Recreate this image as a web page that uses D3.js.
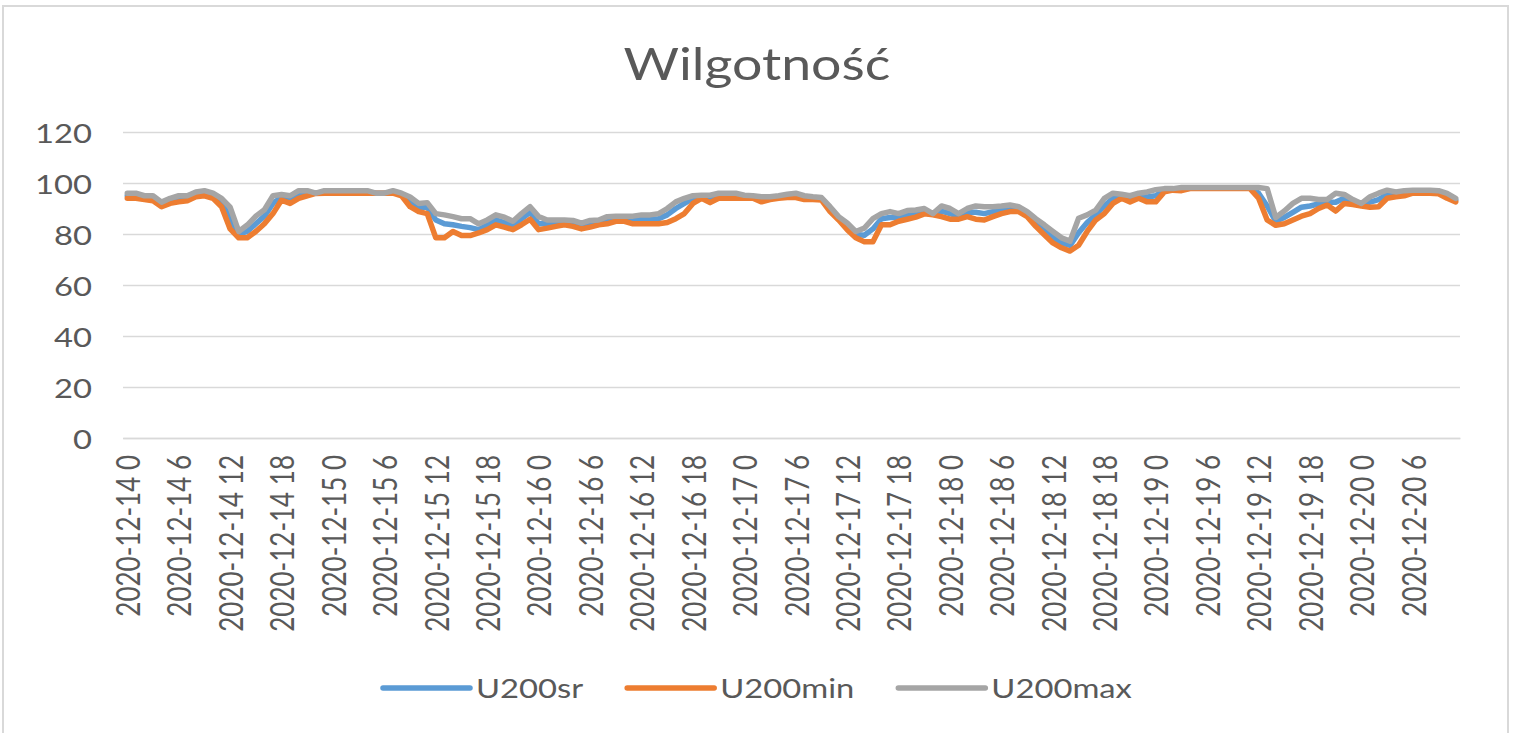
<!DOCTYPE html>
<html>
<head>
<meta charset="utf-8">
<script src="https://cdn.jsdelivr.net/npm/d3@7"></script>
<style>
  body { margin: 0; background: #fff; }
  svg text { font-family: Lato, "Open Sans", sans-serif; fill: #595959; }
</style>
</head>
<body>
<svg width="1513" height="733"></svg>
<script>
// data, hourly from 2020-12-14 0 to 2020-12-20 11
var days = ["2020-12-14", "2020-12-15", "2020-12-16", "2020-12-17", "2020-12-18", "2020-12-19", "2020-12-20"];
var hours = [0, 1, 2, 3, 4, 5, 6, 7, 8, 9, 10, 11, 12, 13, 14, 15, 16, 17, 18, 19, 20, 21, 22, 23];

var tickLabels = [
    "2020-12-14 0", "2020-12-14 6", "2020-12-14 12", "2020-12-14 18",
    "2020-12-15 0", "2020-12-15 6", "2020-12-15 12", "2020-12-15 18",
    "2020-12-16 0", "2020-12-16 6", "2020-12-16 12", "2020-12-16 18",
    "2020-12-17 0", "2020-12-17 6", "2020-12-17 12", "2020-12-17 18",
    "2020-12-18 0", "2020-12-18 6", "2020-12-18 12", "2020-12-18 18",
    "2020-12-19 0", "2020-12-19 6", "2020-12-19 12", "2020-12-19 18",
    "2020-12-20 0", "2020-12-20 6"
];
var yTicks = [0, 20, 40, 60, 80, 100, 120];

var seriesNames = ["U200sr", "U200min", "U200max"];

var u200sr = [
    95, 95, 94.5, 94, 91.5, 93, 94, 94, 95.5, 96,
    95, 92.5, 86, 80, 81, 84, 87, 92, 94.5, 93.5,
    95.5, 96, 96, 96.5, 96.5, 96.5, 96.5, 96.5, 96.5, 96,
    96, 96.5, 95.5, 92.5, 90.5, 90.5, 85.5, 84, 83.6, 83,
    82.5, 81.7, 83.5, 85.5, 84.5, 83.5, 86, 88.5, 84, 84,
    84.3, 84.5, 84, 83, 84, 84.5, 85.5, 86, 86, 85.5,
    85.8, 85.8, 86, 87.5, 90, 92, 94, 94.8, 94, 95.2,
    95.2, 95.2, 94.8, 94.5, 93.8, 94, 94.5, 95, 95.2, 94.3,
    94, 93.8, 90, 86, 83, 79.8, 79.5, 82, 86, 86.5,
    86.5, 87.5, 88, 89, 87.8, 89, 88, 87, 88.5, 88.5,
    88, 88.8, 89.5, 90, 90, 88, 84.5, 81.5, 78.7, 76.5,
    75.5, 80.5, 84.5, 87.5, 91, 94, 95, 94, 95, 94.5,
    95, 97.2, 97.5, 97.6, 98, 98, 98, 98, 98, 98,
    98, 98, 96, 91, 85, 86.5, 88.5, 90.5, 91, 91.8,
    92.5, 92.5, 94, 92.5, 91.5, 92.5, 93.5, 95.5, 95.5, 96,
    96.6, 96.6, 96.6, 96.4, 95, 93.3
];

var u200min = [
    94, 94, 93.5, 93, 90.7, 92, 92.6, 93, 94.6, 95,
    94, 90.7, 82, 78.5, 78.5, 81, 84, 88, 93.3, 92,
    94, 95, 95.9, 96, 96, 96, 96, 96, 96, 96,
    96, 96, 95, 90.7, 88.8, 88, 78.5, 78.5, 81, 79.4,
    79.4, 80.4, 81.7, 83.6, 82.7, 81.7, 83.6, 85.8, 81.7, 82.3,
    83, 83.6, 83, 82, 82.7, 83.6, 84, 85, 85, 84,
    84, 84, 84, 84.5, 86, 88, 92, 94, 92.3, 94,
    94, 94, 94, 94, 92.6, 93.5, 94, 94.3, 94.3, 93.5,
    93.5, 93.3, 88.8, 85.5, 81.7, 78.5, 77, 77, 83.6, 83.6,
    85, 85.8, 86.6, 87.9, 87.5, 86.8, 85.8, 85.8, 86.8, 85.8,
    85.5, 86.8, 88, 88.8, 88.8, 86.8, 83, 79.7, 76.5, 74.6,
    73.3, 75.6, 81, 85.5, 88, 92, 94, 92.6, 94, 92.6,
    92.6, 96.5, 97.2, 97, 97.8, 97.8, 97.8, 97.8, 97.8, 97.8,
    97.8, 97.8, 94, 85.5, 83.4, 84, 85.5, 87, 88, 90,
    91.4, 89, 92, 91.6, 91, 90.5, 90.7, 94, 94.6, 95,
    96, 96, 96, 95.8, 94, 92.6
];

var u200max = [
    96, 96, 95, 95, 92.5, 94, 95, 95, 96.5, 97,
    96, 94, 90.5, 81, 83.5, 87, 89.5, 95, 95.5, 95,
    97, 97, 96, 97, 97, 97, 97, 97, 97, 96,
    96, 97, 96, 94.5, 92, 92.3, 88, 87.5, 86.8, 86,
    86, 84, 85.5, 87.5, 86.6, 85, 88, 90.7, 86.8, 85.5,
    85.5, 85.5, 85.3, 84.3, 85.3, 85.5, 86.8, 87, 87, 87,
    87.5, 87.5, 88, 90, 92.6, 94, 95, 95.2, 95.2, 96,
    96, 96, 95.2, 95, 94.6, 94.6, 95, 95.6, 96, 95,
    94.6, 94.3, 90.7, 86.8, 84.3, 81, 82.3, 86, 88, 88.8,
    88, 89.2, 89.4, 90, 88, 91, 90, 88, 90, 91,
    90.7, 90.7, 91, 91.4, 90.7, 88.8, 86, 83.6, 81, 78.5,
    77.2, 86.2, 87.5, 89.4, 94, 96, 95.6, 95, 96, 96.5,
    97.4, 97.8, 97.8, 98.2, 98.2, 98.2, 98.2, 98.2, 98.2, 98.2,
    98.2, 98.2, 98.2, 97.8, 86.5, 89, 92, 94, 94, 93.5,
    93.5, 96, 95.5, 93.5, 92, 94.6, 96, 97.2, 96.5, 97,
    97.2, 97.2, 97.2, 97, 95.9, 94
];

var colors = ["#5B9BD5", "#ED7D31", "#A5A5A5"];

// categories, one per hour
var categories = [];
days.forEach(function (d) {
    hours.forEach(function (h) { categories.push(d + " " + h); });
});
categories = categories.slice(0, u200sr.length);

var series = [u200sr, u200min, u200max];

var svg = d3.select("svg");
var sx = 1.26; // the picture is stretched sideways

var plot = { left: 123, right: 1460, top: 132, bottom: 438 };

var x = d3.scaleBand()
    .domain(categories)
    .range([plot.left, plot.right]);

var y = d3.scaleLinear()
    .domain([0, 120])
    .range([plot.bottom, plot.top]);

// outer frame
svg.append("rect")
    .attr("x", 3).attr("y", 6)
    .attr("width", 1505).attr("height", 760)
    .attr("fill", "none")
    .attr("stroke", "#D9D9D9")
    .attr("stroke-width", 2);

// title
svg.append("text")
    .attr("transform", "translate(757,80) scale(" + 1.22 + ",1)")
    .attr("text-anchor", "middle")
    .style("font-size", "44px")
    .text("Wilgotność");

// y axis + gridlines
var yAxis = svg.append("g")
    .attr("transform", "translate(" + plot.left + ",0)")
    .call(d3.axisLeft(y).tickValues(yTicks).tickSize(-(plot.right - plot.left)).tickPadding(0));

yAxis.select(".domain").remove();
yAxis.selectAll(".tick line").attr("stroke", "#D9D9D9").attr("stroke-width", 1.5);
yAxis.selectAll(".tick text")
    .attr("x", null).attr("dy", null)
    .attr("dominant-baseline", "central")
    .attr("transform", "translate(-31,0) scale(" + sx + ",1)")
    .style("font-size", "26px")
    .style("font-family", "Lato, 'Open Sans', sans-serif")
    .attr("fill", "#595959");

// x axis
var xAxis = svg.append("g")
    .attr("transform", "translate(0," + plot.bottom + ")")
    .call(d3.axisBottom(x).tickValues(tickLabels).tickSize(0));

xAxis.select(".domain").attr("stroke", "#D9D9D9").attr("stroke-width", 1.5);
xAxis.selectAll(".tick text")
    .attr("y", null).attr("dy", null)
    .attr("text-anchor", "end")
    .attr("dominant-baseline", "central")
    .attr("transform", "translate(0,17) scale(" + sx + ",1) rotate(-90)")
    .style("font-size", "26px")
    .style("font-family", "Lato, 'Open Sans', sans-serif")
    .attr("fill", "#595959");

// lines
var line = d3.line()
    .x(function (d, i) { return x(categories[i]) + x.bandwidth() / 2; })
    .y(function (d) { return y(d); });

svg.selectAll("path.series")
    .data(series)
    .enter().append("path")
    .attr("class", "series")
    .attr("d", line)
    .attr("fill", "none")
    .attr("stroke", function (d, i) { return colors[i]; })
    .attr("stroke-width", 5.5)
    .attr("stroke-linejoin", "round")
    .attr("stroke-linecap", "round");

// legend
var legend = svg.append("g").attr("transform", "translate(0,688)");
var lx = 383;
seriesNames.forEach(function (name, i) {
    legend.append("line")
        .attr("x1", lx).attr("x2", lx + 87)
        .attr("stroke", colors[i])
        .attr("stroke-width", 5.5)
        .attr("stroke-linecap", "round");
    var t = legend.append("text")
        .attr("transform", "translate(" + (lx + 93) + ",0) scale(" + sx + ",1)")
        .attr("dominant-baseline", "central")
        .style("font-size", "26px")
        .text(name);
    lx += 93 + t.node().getComputedTextLength() * sx + 44;
});
</script>
</body>
</html>
